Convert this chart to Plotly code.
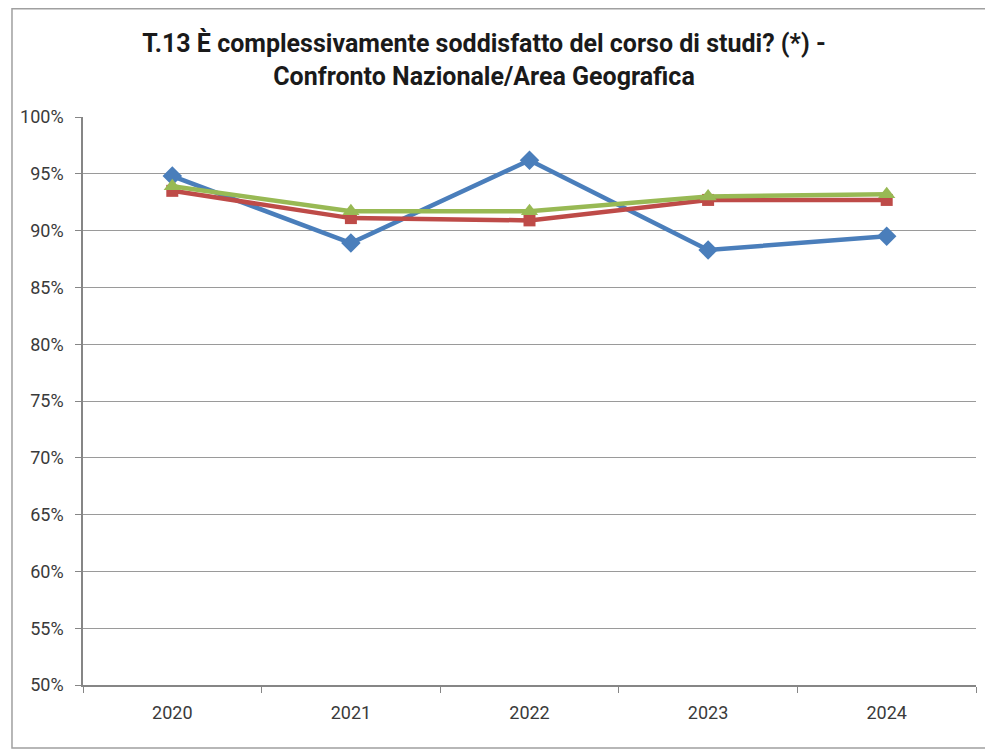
import plotly.graph_objects as go

years = ["2020", "2021", "2022", "2023", "2024"]
blue_vals = [0.948, 0.889, 0.962, 0.883, 0.895]
red_vals = [0.935, 0.911, 0.909, 0.927, 0.927]
green_vals = [0.939, 0.917, 0.917, 0.930, 0.932]
y_ticks = [0.50, 0.55, 0.60, 0.65, 0.70, 0.75, 0.80, 0.85, 0.90, 0.95, 1.00]
y_tick_labels = ["50%", "55%", "60%", "65%", "70%", "75%", "80%", "85%", "90%", "95%", "100%"]

# page has 8px body margin; figure is sized to fill the rest of the window
W, H = 985, 744
L, R, T, B = 72, 17, 109, 67

fig = go.Figure()
series = [
    (blue_vals, "#4a7ebb", "diamond", 15),
    (red_vals, "#be4b48", "square", 12),
    (green_vals, "#98b954", "triangle-up", 15),
]
for vals, col, sym, sz in series:
    fig.add_trace(go.Scatter(
        x=years, y=vals, mode="lines+markers",
        line=dict(color=col, width=4.5),
        marker=dict(symbol=sym, size=sz, color=col),
        showlegend=False,
    ))

pw = W - L - R
ph = H - T - B
base = H - B
fig.add_shape(type="rect", xref="paper", yref="paper",
              x0=(0.75 - L) / pw, x1=(980 - L) / pw,
              y0=(base - 740) / ph, y1=(base - 0.75) / ph,
              line=dict(color="#a0a0a0", width=1.5), layer="below")

fig.update_layout(
    width=W, height=H,
    margin=dict(l=L, r=R, t=T, b=B),
    paper_bgcolor="white", plot_bgcolor="white",
    font=dict(family="Roboto, sans-serif", color="#3a3a3a", size=18),
    title=dict(
        text="<b>T.13 È complessivamente soddisfatto del corso di studi? (*) -<br>Confronto Nazionale/Area Geografica</b>",
        x=(484 - 8) / W, xanchor="center", yref="container", y=1 - 44 / H, yanchor="top",
        font=dict(size=25, color="#1a1a1a", family="Roboto, sans-serif"),
    ),
    xaxis=dict(
        type="category", showgrid=False, showline=True, linecolor="#868686", linewidth=1.5,
        ticks="outside", tickson="boundaries", ticklen=6, tickcolor="#868686",
        tickfont=dict(size=18, color="#3a3a3a"), zeroline=False, range=[-0.5, 4.5],
        ticklabelstandoff=11,
    ),
    yaxis=dict(
        range=[0.5, 1.0], tickvals=y_ticks, ticktext=y_tick_labels,
        showgrid=True, gridcolor="#9a9a9a", gridwidth=1.2,
        showline=True, linecolor="#868686", linewidth=1.5,
        ticks="outside", ticklen=6, tickcolor="#868686",
        tickfont=dict(size=18, color="#3a3a3a"), zeroline=False,
        ticklabelstandoff=8,
    ),
)

fig.write_html("out.html")
